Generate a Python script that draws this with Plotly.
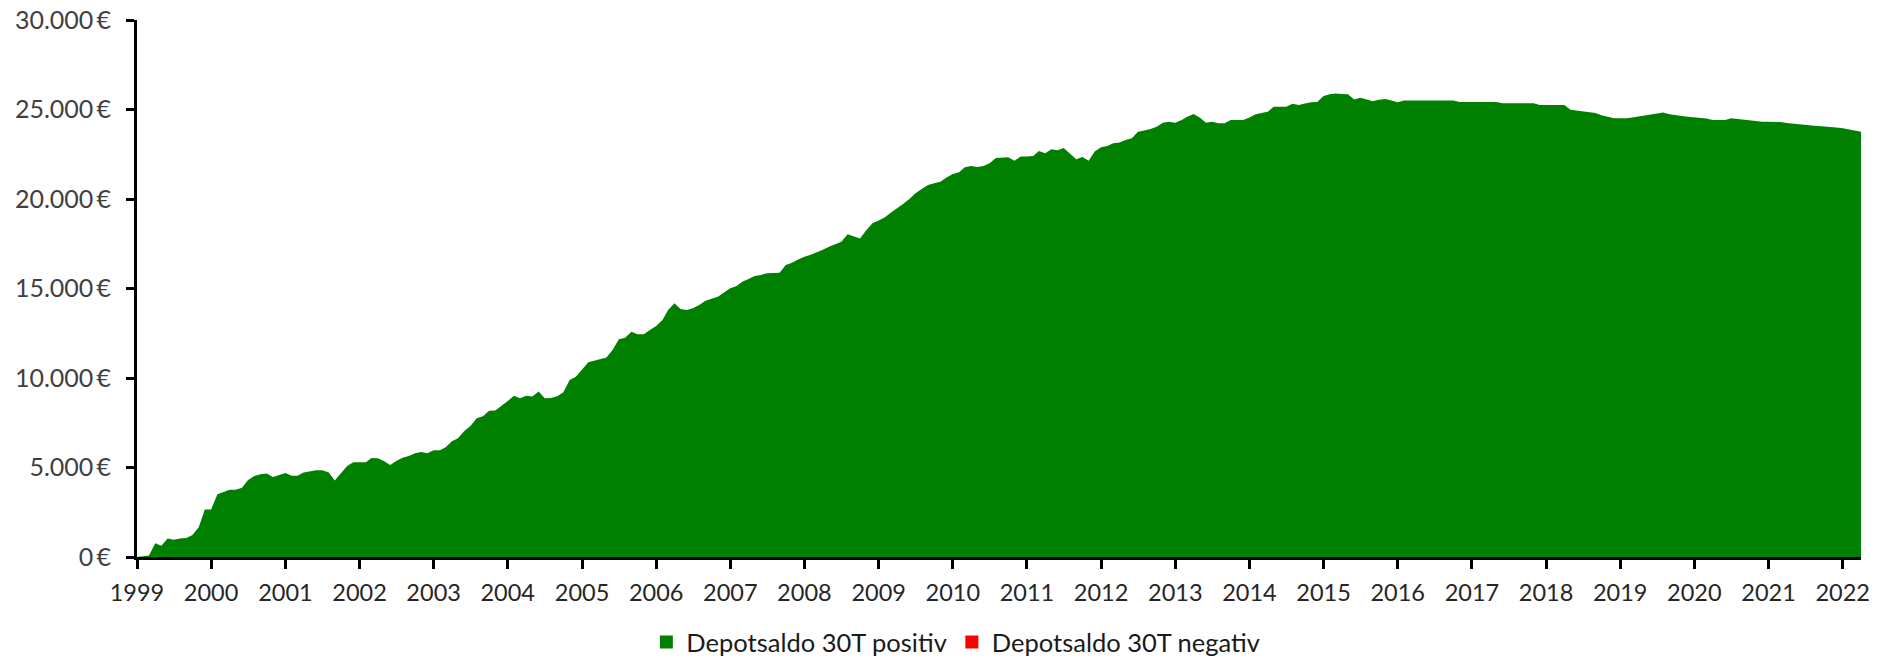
import pandas as pd
import plotly.graph_objects as go

# Monthly values, Jan 1999 .. Apr 2022
start_month = "1999-01-01"
depot_positiv = [
    0, 30, 80, 770, 630, 1040, 970, 1040, 1060, 1230, 1660, 2650,
    2660, 3500, 3610, 3760, 3760, 3870, 4300, 4520, 4620, 4670, 4470, 4600,
    4690, 4540, 4540, 4720, 4800, 4840, 4840, 4730, 4280, 4680, 5090, 5290,
    5290, 5290, 5530, 5510, 5360, 5140, 5360, 5550, 5640, 5790, 5860, 5790,
    5960, 5960, 6130, 6460, 6630, 7040, 7320, 7750, 7860, 8170, 8190, 8440,
    8720, 9010, 8870, 9010, 8960, 9240, 8870, 8880, 8980, 9200, 9890, 10070,
    10450, 10880, 10970, 11050, 11150, 11580, 12160, 12250, 12590, 12440, 12440, 12680,
    12900, 13240, 13800, 14170, 13860, 13800, 13890, 14080, 14320, 14430, 14540, 14780,
    15010, 15140, 15380, 15530, 15700, 15760, 15850, 15860, 15880, 16310, 16440, 16620,
    16780, 16880, 17000, 17170, 17330, 17480, 17610, 18030, 17900, 17800, 18250, 18640,
    18800, 18980, 19230, 19470, 19720, 20000, 20320, 20560, 20780, 20880, 20970, 21200,
    21400, 21500, 21770, 21850, 21790, 21850, 22000, 22290, 22310, 22330, 22140, 22370,
    22380, 22400, 22680, 22550, 22780, 22720, 22850, 22550, 22220, 22350, 22140, 22650,
    22890, 22960, 23110, 23150, 23300, 23390, 23760, 23830, 23910, 24040, 24260, 24320,
    24260, 24420, 24600, 24750, 24560, 24260, 24320, 24230, 24230, 24420, 24420, 24420,
    24560, 24730, 24800, 24880, 25160, 25160, 25160, 25320, 25250, 25330, 25400, 25420,
    25750, 25850, 25900, 25870, 25850, 25560, 25660, 25560, 25460, 25550, 25590, 25500,
    25400, 25500, 25500, 25500, 25500, 25500, 25500, 25500, 25500, 25500, 25420, 25420,
    25420, 25420, 25420, 25420, 25420, 25350, 25350, 25350, 25350, 25350, 25350, 25250,
    25250, 25250, 25250, 25250, 24980, 24940, 24880, 24850, 24800, 24680, 24580, 24510,
    24510, 24510, 24560, 24610, 24670, 24720, 24770, 24830, 24740, 24680, 24640, 24600,
    24565, 24565, 24500, 24420, 24420, 24420, 24510, 24470, 24420, 24390, 24350, 24320,
    24320, 24320, 24300, 24240, 24200, 24150, 24120, 24100, 24080, 24060, 24040, 24000,
    23950, 23870, 23810, 23760,
]
depot_negativ = [0] * len(depot_positiv)

series_names = ["Depotsaldo 30T positiv", "Depotsaldo 30T negativ"]
series_colors = ["#008000", "#FF0000"]
y_ticks = [0, 5000, 10000, 15000, 20000, 25000, 30000]
y_ticktext = ["0\u2009€", "5.000\u2009€", "10.000\u2009€", "15.000\u2009€",
              "20.000\u2009€", "25.000\u2009€", "30.000\u2009€"]

dates = pd.date_range(start_month, periods=len(depot_positiv), freq="MS")

fig = go.Figure()
for vals, name, col in zip([depot_positiv, depot_negativ], series_names, series_colors):
    fig.add_trace(go.Scatter(
        x=dates, y=vals, mode="lines", fill="tozeroy",
        fillcolor=col, line=dict(width=0, color=col),
        name=name, showlegend=False, hoverinfo="x+y",
    ))
    fig.add_trace(go.Scatter(
        x=[None], y=[None], mode="markers", name=name,
        marker=dict(symbol="square", size=13, color=col),
        showlegend=True,
    ))

fig.update_layout(
    width=1886, height=660,
    margin=dict(l=137, r=25, t=20, b=103, autoexpand=False),
    paper_bgcolor="white", plot_bgcolor="white",
    font=dict(family="Lato", size=23, color="#262626"),
    legend=dict(
        orientation="h", xref="container", yref="container",
        x=0.3427, xanchor="left", y=0.0265, yanchor="middle",
        font=dict(family="Lato", size=25.5, color="#1a1a1a"),
        itemwidth=30, bgcolor="rgba(0,0,0,0)",
    ),
    xaxis=dict(
        type="date", automargin=False,
        range=[dates[0], dates[-1]],
        tick0=start_month, dtick="M12", tickformat="%Y",
        showline=True, linecolor="black", linewidth=3,
        ticks="outside", ticklen=9, tickwidth=3, tickcolor="black",
        showgrid=False, zeroline=False,
        tickfont=dict(family="Lato", size=23.5, color="#262626"),
        ticklabelstandoff=4, ticklabeloverflow="allow",
    ),
    yaxis=dict(
        range=[0, 30000], automargin=False,
        tickvals=y_ticks, ticktext=y_ticktext,
        showline=True, linecolor="black", linewidth=3,
        ticks="outside", ticklen=8, tickwidth=3, tickcolor="black",
        showgrid=False, zeroline=False,
        tickfont=dict(family="Lato", size=25, color="#404040"),
        ticklabelstandoff=10, ticklabeloverflow="allow",
    ),
)

fig.write_html(
    "out.html",
    config={"displayModeBar": False},
    post_script="document.body.style.margin='0';document.body.style.padding='0';",
)
